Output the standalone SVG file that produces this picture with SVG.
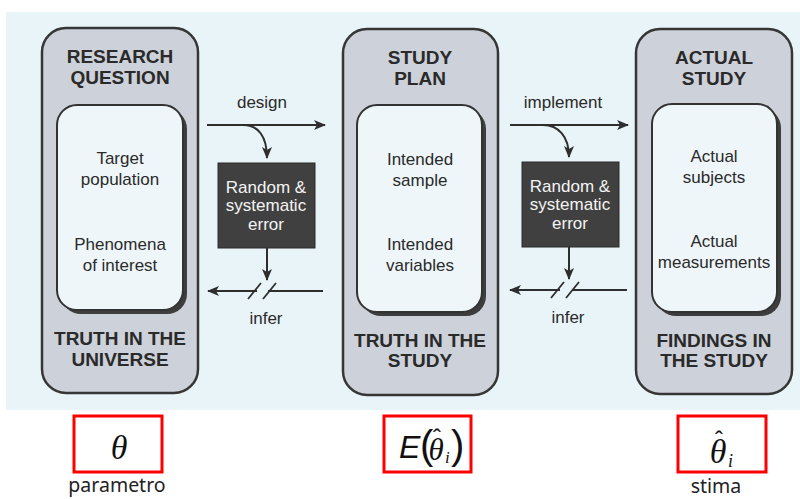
<svg xmlns="http://www.w3.org/2000/svg" width="800" height="499" viewBox="0 0 800 499">
  <style>
    .outer { fill: #cdd1d9; stroke: #363636; stroke-width: 2.5; }
    .inner { fill: #eef6f9; stroke: #333; stroke-width: 2; }
    .shadow { fill: #3d3d3d; }
    .title { font-family: "Liberation Sans", Arial, sans-serif; font-weight: bold; font-size: 19px; fill: #2a2a2a; text-anchor: middle; }
    .body { font-family: "Liberation Sans", Arial, sans-serif; font-size: 17px; fill: #2a2a2a; text-anchor: middle; }
    .err { fill: #404040; stroke: #2a2a2a; stroke-width: 1; }
    .errtxt { font-family: "Liberation Sans", Arial, sans-serif; font-size: 17px; fill: #f4f4f4; text-anchor: middle; }
    .conn { fill: none; stroke: #2e2e2e; stroke-width: 2; }
    .slash { fill: none; stroke: #2e2e2e; stroke-width: 1.8; }
    .rbox { fill: #ffffff; stroke: #ff0000; stroke-width: 3; }
    .math { font-family: "Liberation Serif", "Times New Roman", serif; font-style: italic; fill: #111; }
    .msans { font-family: "Liberation Sans", Arial, sans-serif; fill: #111; }
    .cap { font-family: "Noto Sans", "Open Sans", sans-serif; font-size: 19.5px; fill: #222; text-anchor: middle; }
  </style>
  <defs>
    <marker id="arrow" viewBox="0 0 12 10" refX="11" refY="5" markerWidth="12" markerHeight="10" markerUnits="userSpaceOnUse" orient="auto">
      <path d="M0,0 L12,5 L0,10 L3,5 z" fill="#2e2e2e"/>
    </marker>
  </defs>

  <!-- light panel behind the three stages -->
  <rect x="6" y="12" width="794" height="398" fill="#e9f4f8"/>

  <!-- stage 1: research question -->
  <g id="research-question">
    <rect class="outer" x="42" y="28" width="156" height="365" rx="24"/>
    <rect class="shadow" x="61" y="109" width="126" height="205" rx="20"/>
    <rect class="inner" x="57" y="105" width="126" height="205" rx="20"/>
    <text class="title" x="120" y="63">RESEARCH</text>
    <text class="title" x="120" y="84">QUESTION</text>
    <text class="body" x="120" y="164">Target</text>
    <text class="body" x="120" y="185">population</text>
    <text class="body" x="120" y="250">Phenomena</text>
    <text class="body" x="120" y="271">of interest</text>
    <text class="title" x="120" y="345">TRUTH IN THE</text>
    <text class="title" x="120" y="366">UNIVERSE</text>
  </g>

  <!-- stage 2: study plan -->
  <g id="study-plan">
    <rect class="outer" x="343" y="29" width="155" height="366" rx="24"/>
    <rect class="shadow" x="361" y="109" width="125" height="207" rx="20"/>
    <rect class="inner" x="357" y="105" width="125" height="207" rx="20"/>
    <text class="title" x="420" y="64">STUDY</text>
    <text class="title" x="420" y="85">PLAN</text>
    <text class="body" x="420" y="165">Intended</text>
    <text class="body" x="420" y="186">sample</text>
    <text class="body" x="420" y="250">Intended</text>
    <text class="body" x="420" y="271">variables</text>
    <text class="title" x="420" y="347">TRUTH IN THE</text>
    <text class="title" x="420" y="367">STUDY</text>
  </g>

  <!-- stage 3: actual study -->
  <g id="actual-study">
    <rect class="outer" x="636" y="29" width="156" height="365" rx="24"/>
    <rect class="shadow" x="656" y="108" width="125" height="208" rx="20"/>
    <rect class="inner" x="652" y="104" width="125" height="208" rx="20"/>
    <text class="title" x="714" y="64">ACTUAL</text>
    <text class="title" x="714" y="85">STUDY</text>
    <text class="body" x="714" y="162">Actual</text>
    <text class="body" x="714" y="183">subjects</text>
    <text class="body" x="714" y="247">Actual</text>
    <text class="body" x="714" y="268">measurements</text>
    <text class="title" x="714" y="347">FINDINGS IN</text>
    <text class="title" x="714" y="367">THE STUDY</text>
  </g>

  <!-- error boxes between stages -->
  <g id="error-1">
    <rect class="err" x="218" y="163" width="97" height="85"/>
    <text class="errtxt" x="266" y="193">Random &amp;</text>
    <text class="errtxt" x="266" y="211">systematic</text>
    <text class="errtxt" x="266" y="230">error</text>
  </g>
  <g id="error-2">
    <rect class="err" x="522" y="162" width="97" height="85"/>
    <text class="errtxt" x="570" y="192">Random &amp;</text>
    <text class="errtxt" x="570" y="210">systematic</text>
    <text class="errtxt" x="570" y="229">error</text>
  </g>

  <!-- connectors -->
  <g id="connectors">
    <!-- design -->
    <text class="body" x="262" y="108">design</text>
    <path class="conn" d="M207,125 H325" marker-end="url(#arrow)"/>
    <path class="conn" d="M243,125 C258,125 267,136 267,158" marker-end="url(#arrow)"/>
    <path class="conn" d="M267,248 V280" marker-end="url(#arrow)"/>
    <path class="conn" d="M323,291 H268"/>
    <path class="conn" d="M257,291 H208" marker-end="url(#arrow)"/>
    <path class="slash" d="M248,299 L261,283 M263,299 L276,283"/>
    <text class="body" x="266" y="324">infer</text>

    <!-- implement -->
    <text class="body" x="563" y="108">implement</text>
    <path class="conn" d="M510,125 H628" marker-end="url(#arrow)"/>
    <path class="conn" d="M543,125 C558,125 569,136 569,157" marker-end="url(#arrow)"/>
    <path class="conn" d="M569,247 V279" marker-end="url(#arrow)"/>
    <path class="conn" d="M627,290 H572"/>
    <path class="conn" d="M560,290 H510" marker-end="url(#arrow)"/>
    <path class="slash" d="M551,298 L564,282 M566,298 L579,282"/>
    <text class="body" x="568" y="323">infer</text>
  </g>

  <!-- parameter / expectation / estimate -->
  <g id="parameter">
    <rect class="rbox" x="74" y="416" width="88" height="56"/>
    <text class="math" x="119" y="459" font-size="34" text-anchor="middle">θ</text>
    <text class="cap" x="117" y="492">parametro</text>
  </g>
  <g id="expectation">
    <rect class="rbox" x="384" y="416" width="87" height="56"/>
    <text class="msans" x="399" y="458" font-size="32" font-style="italic">E</text>
    <text class="msans" x="420" y="459" font-size="40" font-weight="300">(</text>
    <text class="math" x="436" y="460" font-size="31" text-anchor="middle">θ</text>
    <text class="msans" x="437" y="446" font-size="24" text-anchor="middle">ˆ</text>
    <text class="math" x="445" y="463" font-size="17">i</text>
    <text class="msans" x="451" y="459" font-size="40" font-weight="300">)</text>
  </g>
  <g id="estimate">
    <rect class="rbox" x="678" y="416" width="88" height="56"/>
    <text class="math" x="718" y="463" font-size="34" text-anchor="middle">θ</text>
    <text class="msans" x="719" y="448" font-size="24" text-anchor="middle">ˆ</text>
    <text class="math" x="728" y="467" font-size="18">i</text>
    <text class="cap" x="716" y="493">stima</text>
  </g>
</svg>
